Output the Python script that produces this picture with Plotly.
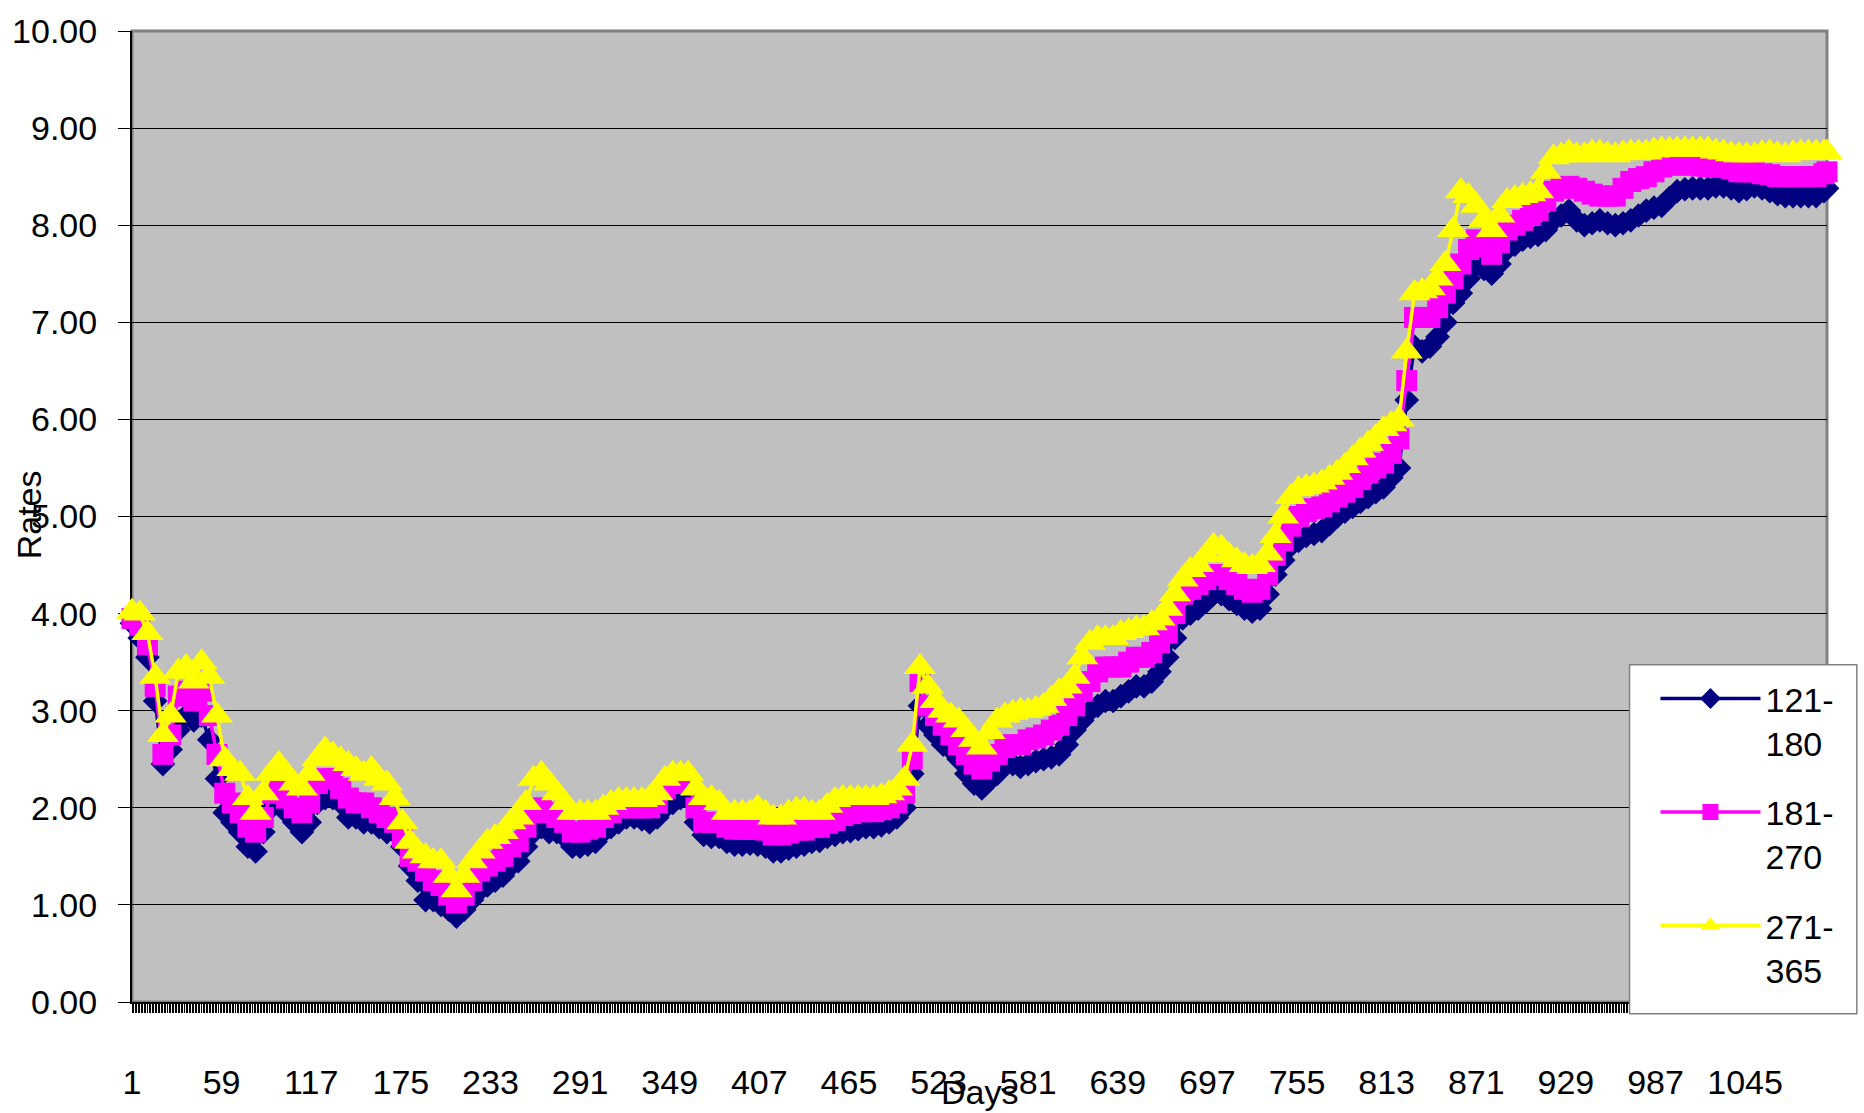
import plotly.graph_objects as go

# ---------------- data ----------------
days = [1, 6, 11, 16, 21, 26, 31, 36, 41, 46,
        51, 56, 61, 66, 71, 76, 81, 86, 91, 96,
        101, 106, 111, 116, 121, 126, 131, 136, 141, 146,
        151, 156, 161, 166, 171, 176, 181, 186, 191, 196,
        201, 206, 211, 216, 221, 226, 231, 236, 241, 246,
        251, 256, 261, 266, 271, 276, 281, 286, 291, 296,
        301, 306, 311, 316, 321, 326, 331, 336, 341, 346,
        351, 356, 361, 366, 371, 376, 381, 386, 391, 396,
        401, 406, 411, 416, 421, 426, 431, 436, 441, 446,
        451, 456, 461, 466, 471, 476, 481, 486, 491, 496,
        501, 506, 511, 516, 521, 526, 531, 536, 541, 546,
        551, 556, 561, 566, 571, 576, 581, 586, 591, 596,
        601, 606, 611, 616, 621, 626, 631, 636, 641, 646,
        651, 656, 661, 666, 671, 676, 681, 686, 691, 696,
        701, 706, 711, 716, 721, 726, 731, 736, 741, 746,
        751, 756, 761, 766, 771, 776, 781, 786, 791, 796,
        801, 806, 811, 816, 821, 826, 831, 836, 841, 846,
        851, 856, 861, 866, 871, 876, 881, 886, 891, 896,
        901, 906, 911, 916, 921, 926, 931, 936, 941, 946,
        951, 956, 961, 966, 971, 976, 981, 986, 991, 996,
        1001, 1006, 1011, 1016, 1021, 1026, 1031, 1036, 1041, 1046,
        1051, 1056, 1061, 1066, 1071, 1076, 1081, 1086, 1091, 1096,
        1098]

rate_121_180 = [3.90, 3.75, 3.55, 3.10, 2.45, 2.60, 2.80, 2.95, 2.90, 2.95,
                2.70, 2.30, 1.95, 1.85, 1.75, 1.60, 1.55, 1.75, 2.00, 2.05,
                1.95, 1.85, 1.75, 1.85, 2.05, 2.10, 2.10, 2.05, 1.90, 1.90,
                1.85, 1.85, 1.80, 1.75, 1.75, 1.60, 1.40, 1.25, 1.05, 1.05,
                1.00, 0.95, 0.88, 0.95, 1.05, 1.15, 1.20, 1.25, 1.30, 1.40,
                1.45, 1.60, 1.75, 1.80, 1.75, 1.75, 1.70, 1.60, 1.60, 1.62,
                1.65, 1.75, 1.80, 1.85, 1.90, 1.90, 1.88, 1.85, 1.90, 2.00,
                2.05, 2.10, 2.10, 1.85, 1.72, 1.70, 1.70, 1.65, 1.62, 1.62,
                1.63, 1.62, 1.60, 1.55, 1.55, 1.58, 1.60, 1.62, 1.65, 1.66,
                1.70, 1.72, 1.75, 1.76, 1.78, 1.80, 1.80, 1.82, 1.85, 1.90,
                2.00, 2.35, 3.05, 2.85, 2.75, 2.65, 2.60, 2.50, 2.35, 2.25,
                2.20, 2.28, 2.35, 2.45, 2.45, 2.42, 2.45, 2.48, 2.50, 2.52,
                2.55, 2.65, 2.80, 2.90, 3.00, 3.05, 3.10, 3.10, 3.15, 3.20,
                3.25, 3.25, 3.30, 3.40, 3.55, 3.75, 3.95, 4.00, 4.05, 4.12,
                4.20, 4.20, 4.15, 4.10, 4.05, 4.02, 4.05, 4.20, 4.40, 4.55,
                4.70, 4.75, 4.80, 4.82, 4.85, 4.92, 5.00, 5.05, 5.10, 5.15,
                5.20, 5.25, 5.30, 5.40, 5.50, 6.20, 6.75, 6.70, 6.75, 6.85,
                7.00, 7.20, 7.30, 7.45, 7.60, 7.55, 7.50, 7.60, 7.75, 7.80,
                7.85, 7.88, 7.90, 7.95, 8.05, 8.10, 8.15, 8.05, 8.00, 8.02,
                8.05, 8.02, 8.00, 8.02, 8.05, 8.10, 8.15, 8.18, 8.20, 8.28,
                8.35, 8.37, 8.38, 8.38, 8.38, 8.40, 8.40, 8.38, 8.35, 8.37,
                8.40, 8.38, 8.35, 8.32, 8.30, 8.30, 8.30, 8.30, 8.30, 8.35,
                8.38]

rate_181_270 = [3.95, 3.88, 3.68, 3.25, 2.55, 2.75, 3.15, 3.20, 3.10, 3.20,
                2.95, 2.55, 2.15, 2.05, 1.95, 1.80, 1.75, 1.90, 2.15, 2.20,
                2.10, 2.00, 1.95, 2.05, 2.25, 2.30, 2.30, 2.20, 2.10, 2.05,
                2.05, 2.00, 1.95, 1.90, 1.85, 1.70, 1.50, 1.45, 1.35, 1.25,
                1.20, 1.10, 1.02, 1.10, 1.25, 1.35, 1.40, 1.45, 1.50, 1.60,
                1.65, 1.80, 1.95, 2.00, 1.95, 1.90, 1.85, 1.75, 1.75, 1.78,
                1.80, 1.90, 1.95, 2.00, 2.00, 2.00, 2.00, 2.00, 2.05, 2.20,
                2.25, 2.25, 2.25, 2.00, 1.85, 1.85, 1.85, 1.80, 1.78, 1.78,
                1.78, 1.78, 1.77, 1.72, 1.72, 1.74, 1.77, 1.77, 1.80, 1.80,
                1.84, 1.87, 1.92, 1.94, 1.96, 1.96, 1.96, 1.98, 2.00, 2.05,
                2.15, 2.50, 3.30, 3.05, 2.95, 2.85, 2.75, 2.65, 2.55, 2.45,
                2.40, 2.48, 2.55, 2.62, 2.65, 2.65, 2.70, 2.72, 2.75, 2.80,
                2.85, 2.95, 3.05, 3.20, 3.30, 3.40, 3.45, 3.45, 3.45, 3.50,
                3.55, 3.55, 3.60, 3.70, 3.80, 4.00, 4.20, 4.25, 4.30, 4.35,
                4.40, 4.40, 4.35, 4.30, 4.25, 4.22, 4.25, 4.40, 4.60, 4.75,
                4.90, 5.00, 5.05, 5.08, 5.10, 5.15, 5.20, 5.25, 5.30, 5.38,
                5.45, 5.50, 5.55, 5.65, 5.80, 6.40, 7.05, 7.05, 7.05, 7.15,
                7.30, 7.45, 7.60, 7.75, 7.85, 7.78, 7.70, 7.82, 7.95, 8.00,
                8.05, 8.10, 8.15, 8.25, 8.35, 8.38, 8.40, 8.38, 8.35, 8.32,
                8.30, 8.30, 8.30, 8.38, 8.45, 8.48, 8.50, 8.55, 8.60, 8.62,
                8.62, 8.62, 8.62, 8.61, 8.60, 8.60, 8.60, 8.58, 8.55, 8.55,
                8.55, 8.53, 8.52, 8.50, 8.50, 8.50, 8.50, 8.50, 8.50, 8.53,
                8.55]

rate_271_365 = [4.02, 4.00, 3.80, 3.35, 2.75, 2.95, 3.40, 3.45, 3.30, 3.50,
                3.35, 2.95, 2.50, 2.40, 2.35, 2.10, 1.95, 2.15, 2.35, 2.45,
                2.35, 2.25, 2.20, 2.35, 2.50, 2.60, 2.55, 2.50, 2.45, 2.40,
                2.35, 2.40, 2.30, 2.25, 2.10, 1.85, 1.65, 1.55, 1.50, 1.45,
                1.45, 1.30, 1.15, 1.30, 1.45, 1.55, 1.65, 1.70, 1.75, 1.85,
                1.90, 2.05, 2.30, 2.35, 2.25, 2.15, 2.05, 1.95, 1.95, 1.95,
                1.95, 2.00, 2.05, 2.08, 2.08, 2.08, 2.08, 2.10, 2.15, 2.30,
                2.35, 2.35, 2.35, 2.20, 2.10, 2.10, 2.05, 1.95, 1.95, 1.95,
                1.95, 2.00, 1.95, 1.90, 1.90, 1.95, 1.98, 1.98, 1.95, 1.95,
                2.02, 2.08, 2.10, 2.10, 2.10, 2.10, 2.10, 2.12, 2.15, 2.20,
                2.30, 2.65, 3.45, 3.25, 3.10, 3.00, 2.95, 2.90, 2.80, 2.70,
                2.62, 2.78, 2.90, 2.95, 2.98, 3.00, 3.00, 3.02, 3.05, 3.12,
                3.20, 3.25, 3.35, 3.55, 3.70, 3.75, 3.75, 3.75, 3.80, 3.82,
                3.85, 3.85, 3.90, 3.95, 4.05, 4.20, 4.35, 4.45, 4.50, 4.60,
                4.70, 4.68, 4.60, 4.55, 4.50, 4.48, 4.50, 4.62, 4.80, 5.00,
                5.20, 5.28, 5.30, 5.32, 5.35, 5.40, 5.45, 5.52, 5.60, 5.68,
                5.75, 5.82, 5.90, 5.95, 6.00, 6.70, 7.30, 7.32, 7.35, 7.45,
                7.60, 7.95, 8.35, 8.30, 8.20, 8.05, 7.95, 8.10, 8.25, 8.28,
                8.30, 8.32, 8.35, 8.55, 8.70, 8.72, 8.75, 8.72, 8.72, 8.75,
                8.75, 8.73, 8.72, 8.74, 8.75, 8.75, 8.75, 8.77, 8.78, 8.78,
                8.78, 8.78, 8.78, 8.78, 8.78, 8.76, 8.75, 8.73, 8.72, 8.72,
                8.72, 8.74, 8.75, 8.73, 8.72, 8.74, 8.75, 8.75, 8.75, 8.75,
                8.75]

series_names = ["121-<br>180", "181-<br>270", "271-<br>365"]
tick_days = [1, 59, 117, 175, 233, 291, 349, 407, 465, 523, 581, 639, 697,
             755, 813, 871, 929, 987, 1045]
tick_labels = ["1", "59", "117", "175", "233", "291", "349", "407", "465",
               "523", "581", "639", "697", "755", "813", "871", "929", "987", "1045"]
y_ticks = [0, 1, 2, 3, 4, 5, 6, 7, 8, 9, 10]
y_tick_labels = ["0.00", "1.00", "2.00", "3.00", "4.00", "5.00", "6.00",
                 "7.00", "8.00", "9.00", "10.00"]

# ---------------- figure ----------------
FONT = "Liberation Sans, Arial, sans-serif"
styles = [
    dict(color="#000080", symbol="diamond", size=19),
    dict(color="#FF00FF", symbol="square", size=21),
    dict(color="#FFFF00", symbol="triangle-up", size=28),
]
series = [rate_121_180, rate_181_270, rate_271_365]

fig = go.Figure()
for name, vals, st in zip(series_names, series, styles):
    fig.add_trace(go.Scatter(
        x=days, y=vals, name=name, mode="lines+markers",
        legendgroup=name,
        line=dict(color=st["color"], width=3.5),
        marker=dict(symbol=st["symbol"], size=st["size"], color=st["color"],
                    line=dict(width=0)),
        cliponaxis=False,
    ))

fig.update_layout(
    width=1864, height=1113,
    margin=dict(l=127, r=37, t=26, b=102),
    paper_bgcolor="white", plot_bgcolor="#C0C0C0",
    font=dict(family=FONT, size=34, color="black"),
    showlegend=True,
    legend=dict(x=0.8988, y=0.342, xanchor="left", yanchor="top",
                bgcolor="rgba(0,0,0,0)", borderwidth=0,
                font=dict(family=FONT, size=34, color="black"),
                itemwidth=100, valign="top", traceorder="grouped",
                tracegroupgap=22),
    xaxis=dict(range=[1, 1098], tickmode="array", tickvals=tick_days,
               ticktext=tick_labels, ticks="outside", ticklen=9,
               tickcolor="black", tickwidth=1, showgrid=False, zeroline=False,
               showline=True, linecolor="black", linewidth=2,
               layer="below traces", ticklabelstandoff=40,
               minor=dict(ticks="outside", tickmode="linear", tick0=1, dtick=1,
                          ticklen=9, tickcolor="black", tickwidth=1,
                          showgrid=False)),
    yaxis=dict(range=[0, 10], tickmode="array", tickvals=y_ticks,
               ticktext=y_tick_labels, ticks="outside", ticklen=12,
               tickcolor="black", tickwidth=1, showgrid=True,
               gridcolor="black", gridwidth=1, zeroline=False,
               showline=True, linecolor="black", linewidth=2,
               layer="below traces", ticklabelstandoff=14),
    shapes=[
        dict(type="rect", xref="paper", yref="paper", x0=0, x1=1, y0=0, y1=1,
             line=dict(color="#808080", width=3), layer="between"),
        # legend box
        dict(type="rect", xref="paper", yref="paper",
             x0=0.8835, x1=1.0176, y0=-0.0122, y1=0.3472,
             fillcolor="white", line=dict(color="#808080", width=1.5),
             layer="above"),
    ],
    annotations=[
        dict(text="Days", x=0.5, y=-0.0924, xref="paper", yref="paper",
             showarrow=False, xanchor="center", yanchor="middle",
             font=dict(family=FONT, size=34, color="black")),
        dict(text="Rates", x=-0.0606, y=0.5015, xref="paper", yref="paper",
             showarrow=False, xanchor="center", yanchor="middle", textangle=-90,
             font=dict(family=FONT, size=34, color="black")),
    ],
)

fig.write_html("out.html", config={"displayModeBar": False},
               post_script="document.body.style.margin='0';")
